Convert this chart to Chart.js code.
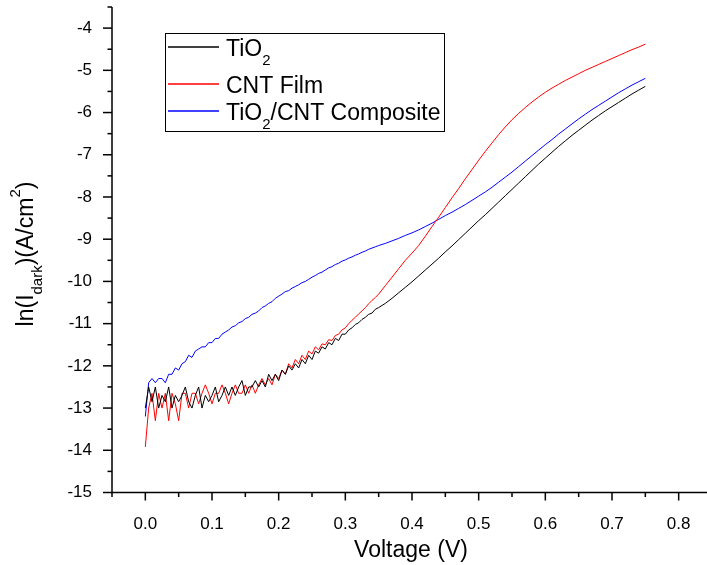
<!DOCTYPE html>
<html><head><meta charset="utf-8">
<script src="https://cdn.jsdelivr.net/npm/chart.js@4.4.1/dist/chart.umd.min.js"></script>
<style>html,body{margin:0;padding:0;background:#fff;overflow:hidden;width:707px;height:565px}canvas{display:block}</style>
</head><body><canvas id="c" width="715" height="565"></canvas>
<script>
// ---- data ----
const voltage = [
 0,0.005,0.01,0.015,0.02,0.025,0.03,0.035,0.04,0.045,
 0.05,0.055,0.06,0.065,0.07,0.075,0.08,0.085,0.09,0.095,
 0.1,0.105,0.11,0.115,0.12,0.125,0.13,0.135,0.14,0.145,
 0.15,0.155,0.16,0.165,0.17,0.175,0.18,0.185,0.19,0.195,
 0.2,0.205,0.21,0.215,0.22,0.225,0.23,0.235,0.24,0.245,
 0.25,0.255,0.26,0.265,0.27,0.275,0.28,0.285,0.29,0.295,
 0.3,0.305,0.31,0.315,0.32,0.325,0.33,0.335,0.34,0.345,
 0.35,
 0.36,0.37,0.38,0.39,0.4,0.41,0.42,0.43,0.44,0.45,
 0.46,0.47,0.48,0.49,0.5,0.51,0.52,0.53,0.54,0.55,
 0.56,0.57,0.58,0.59,0.6,0.61,0.62,0.63,0.64,0.65,
 0.66,0.67,0.68,0.69,0.7,0.71,0.72,0.73,0.74,0.75
];
const tio2 = [
 -13.0,-12.5,-12.85,-12.5,-13.0,-12.7,-12.85,-12.5,-13.0,-12.7,
 -12.85,-12.7,-12.5,-12.85,-13.0,-12.7,-12.5,-13.0,-12.7,-12.85,
 -12.7,-12.5,-12.85,-12.7,-12.5,-12.7,-12.5,-12.7,-12.5,-12.35,
 -12.7,-12.5,-12.5,-12.35,-12.5,-12.35,-12.5,-12.2,-12.35,-12.2,
 -12.35,-12.1,-12.2,-12.0,-12.1,-11.95,-12.05,-11.85,-11.95,-11.75,
 -11.85,-11.65,-11.7,-11.55,-11.6,-11.45,-11.5,-11.35,-11.4,-11.25,
 -11.25,-11.15,-11.1,-11.02,-10.98,-10.9,-10.85,-10.78,-10.75,-10.66,
 -10.62,
 -10.52,-10.4,-10.27,-10.14,-10.01,-9.87,-9.73,-9.59,-9.45,-9.3,
 -9.16,-9.01,-8.86,-8.71,-8.56,-8.42,-8.27,-8.12,-7.97,-7.82,
 -7.67,-7.52,-7.37,-7.22,-7.08,-6.94,-6.8,-6.67,-6.54,-6.42,
 -6.3,-6.18,-6.07,-5.96,-5.86,-5.76,-5.66,-5.56,-5.47,-5.38
];
const cntFilm = [
 -13.92,-13.0,-12.65,-13.3,-12.65,-13.0,-12.65,-13.3,-12.65,-12.9,
 -13.3,-12.65,-12.65,-13.0,-12.65,-12.65,-12.9,-12.65,-12.45,-12.65,
 -12.9,-12.65,-12.65,-12.45,-12.65,-12.9,-12.65,-12.45,-12.65,-12.65,
 -12.45,-12.65,-12.45,-12.65,-12.45,-12.3,-12.45,-12.3,-12.45,-12.2,
 -12.3,-12.1,-12.2,-11.95,-12.05,-11.85,-11.95,-11.75,-11.85,-11.65,
 -11.72,-11.55,-11.62,-11.48,-11.5,-11.38,-11.4,-11.28,-11.25,-11.15,
 -11.1,-11.0,-10.92,-10.85,-10.77,-10.7,-10.62,-10.53,-10.45,-10.38,
 -10.3,
 -10.1,-9.9,-9.7,-9.5,-9.33,-9.15,-8.93,-8.7,-8.48,-8.25,
 -8.02,-7.8,-7.57,-7.35,-7.13,-6.92,-6.72,-6.52,-6.34,-6.17,
 -6.02,-5.88,-5.75,-5.63,-5.52,-5.42,-5.33,-5.24,-5.16,-5.08,
 -5.0,-4.93,-4.86,-4.79,-4.72,-4.65,-4.58,-4.51,-4.45,-4.38
];
const composite = [
 -13.2,-12.4,-12.3,-12.4,-12.3,-12.3,-12.4,-12.2,-12.2,-12.05,
 -12.1,-11.95,-11.9,-11.75,-11.8,-11.65,-11.6,-11.55,-11.55,-11.45,
 -11.45,-11.35,-11.35,-11.25,-11.2,-11.15,-11.08,-11.05,-10.98,-10.95,
 -10.88,-10.85,-10.78,-10.75,-10.7,-10.62,-10.58,-10.52,-10.48,-10.4,
 -10.35,-10.3,-10.24,-10.22,-10.16,-10.12,-10.08,-10.03,-10.0,-9.95,
 -9.9,-9.86,-9.81,-9.78,-9.73,-9.68,-9.65,-9.6,-9.57,-9.52,
 -9.49,-9.45,-9.42,-9.38,-9.35,-9.31,-9.28,-9.24,-9.21,-9.18,
 -9.15,
 -9.1,-9.04,-8.98,-8.91,-8.85,-8.78,-8.7,-8.62,-8.53,-8.44,
 -8.36,-8.27,-8.18,-8.08,-7.98,-7.88,-7.77,-7.65,-7.53,-7.41,
 -7.28,-7.15,-7.02,-6.89,-6.76,-6.64,-6.51,-6.39,-6.27,-6.15,
 -6.04,-5.93,-5.83,-5.73,-5.63,-5.53,-5.44,-5.35,-5.27,-5.19
];
const seriesNames = ['TiO_2', 'CNT Film', 'TiO_2/CNT Composite'];
const seriesColors = ['#000000', '#ff0000', '#0000ff'];
const xTickLabels = ['0.0','0.1','0.2','0.3','0.4','0.5','0.6','0.7','0.8'];
const yTickLabels = ['-15','-14','-13','-12','-11','-10','-9','-8','-7','-6','-5','-4'];
const xTitle = 'Voltage (V)';
const yTitle = 'ln(I_{dark})(A/cm^2)';

// ---- styling / layout ----
const FONT = '"Liberation Sans", Arial, sans-serif';
const legendBox = {x1:165.5, y1:33.5, x2:444.5, y2:131.5};
const legendBaselines = [56, 93, 120];

function parseRich(s){
  const out=[]; let i=0, buf='';
  while(i<s.length){
    const c=s[i];
    if(c==='_'||c==='^'){
      if(buf){out.push({t:buf,m:0});buf='';}
      let t;
      if(s[i+1]==='{'){const j=s.indexOf('}',i); t=s.slice(i+2,j); i=j+1;}
      else {t=s[i+1]; i+=2;}
      out.push({t, m: c==='_'?1:-1});
    } else {buf+=c;i++;}
  }
  if(buf) out.push({t:buf,m:0});
  return out;
}
function drawRich(ctx, s, x, y, size, center){
  const small = Math.round(size*0.65);
  const parts = parseRich(s);
  let total = 0;
  parts.forEach(p=>{ ctx.font = (p.m? small: size)+'px '+FONT; p.w = ctx.measureText(p.t).width; total += p.w; });
  let cx = center ? x - total/2 : x;
  ctx.textBaseline='alphabetic'; ctx.textAlign='left';
  parts.forEach(p=>{
    ctx.font = (p.m? small: size)+'px '+FONT;
    const dy = p.m===1 ? size*0.4 : (p.m===-1 ? -size*0.55 : 0);
    ctx.fillText(p.t, cx, y+dy);
    cx += p.w;
  });
}

const axesPlugin = {
  id:'axesPlugin',
  afterDraw(chart){
    const {ctx, chartArea:{left,right,top,bottom}, scales:{x,y}} = chart;
    ctx.save();
    ctx.strokeStyle='#000'; ctx.lineWidth=1.5;
    ctx.beginPath(); ctx.moveTo(left, top); ctx.lineTo(left, bottom); ctx.lineTo(right, bottom); ctx.stroke();
    x.ticks.forEach(t=>{
      const px = x.getPixelForValue(t.value);
      const major = Math.abs(t.value*10 - Math.round(t.value*10))<1e-6;
      ctx.beginPath(); ctx.moveTo(px, bottom); ctx.lineTo(px, bottom + (major?8:4.5)); ctx.stroke();
    });
    y.ticks.forEach(t=>{
      const py = y.getPixelForValue(t.value);
      const major = Math.abs(t.value - Math.round(t.value))<1e-6;
      ctx.beginPath(); ctx.moveTo(left, py); ctx.lineTo(left - (major?9:4.5), py); ctx.stroke();
    });
    ctx.fillStyle='#000';
    // x title
    ctx.font='23px '+FONT; ctx.textAlign='center'; ctx.textBaseline='alphabetic';
    ctx.fillText(xTitle, (left+right)/2 - 1, 557);
    // y title
    ctx.save(); ctx.translate(33, 254); ctx.rotate(-Math.PI/2);
    drawRich(ctx, yTitle, 0, 0, 23, true);
    ctx.restore();
    // legend
    ctx.lineWidth=1; ctx.strokeStyle='#000';
    ctx.strokeRect(legendBox.x1, legendBox.y1, legendBox.x2-legendBox.x1, legendBox.y2-legendBox.y1);
    seriesNames.forEach((n,i)=>{
      const by = legendBaselines[i];
      ctx.strokeStyle = seriesColors[i]; ctx.lineWidth = 1.3;
      ctx.beginPath(); ctx.moveTo(168, by-9); ctx.lineTo(219, by-9); ctx.stroke();
      ctx.fillStyle='#000';
      drawRich(ctx, n, 226, by, 23, false);
    });
    ctx.restore();
  }
};

const seriesValues = [tio2, cntFilm, composite];
const datasets = seriesValues.map((vals,i)=>({
  label: seriesNames[i].replace(/_/g,''),
  data: vals.map((v,k)=>({x: voltage[k], y: v})),
  borderColor: seriesColors[i],
  borderWidth: 1,
  pointRadius: 0,
  tension: 0,
  fill: false
}));

new Chart(document.getElementById('c'), {
  type:'line',
  data:{datasets},
  options:{
    responsive:false, animation:false, devicePixelRatio:1,
    layout:{padding:{left:0, top:7, right:3, bottom:0}},
    plugins:{legend:{display:false}, tooltip:{enabled:false}},
    scales:{
      x:{
        type:'linear', min:-0.05, max:0.85,
        grid:{display:false}, border:{display:false},
        afterBuildTicks(s){ const t=[]; for(let k=-1;k<=17;k++) t.push({value:k*0.05}); s.ticks=t; },
        afterFit(s){ s.height = 72.5; s.paddingLeft = 0; s.paddingRight = 0; },
        ticks:{
          autoSkip:false, maxRotation:0, padding:14, color:'#000',
          font:{family:FONT, size:17},
          callback(v){ const k=Math.round(v*10); return (Math.abs(v*10-k)<1e-6 && k>=0 && k<=8) ? xTickLabels[k] : ''; }
        }
      },
      y:{
        type:'linear', min:-15, max:-3.5,
        grid:{display:false}, border:{display:false},
        afterBuildTicks(s){ const t=[]; for(let k=-30;k<=-7;k++) t.push({value:k*0.5}); s.ticks=t; },
        afterFit(s){ s.width = 112; s.paddingTop = 0; s.paddingBottom = 0; },
        ticks:{
          autoSkip:false, padding:12, color:'#000',
          font:{family:FONT, size:17},
          callback(v){ const k=Math.round(v); return (Math.abs(v-k)<1e-6 && k>=-15 && k<=-4) ? yTickLabels[k+15] : ''; }
        }
      }
    }
  },
  plugins:[axesPlugin]
});
</script>
</body></html>
